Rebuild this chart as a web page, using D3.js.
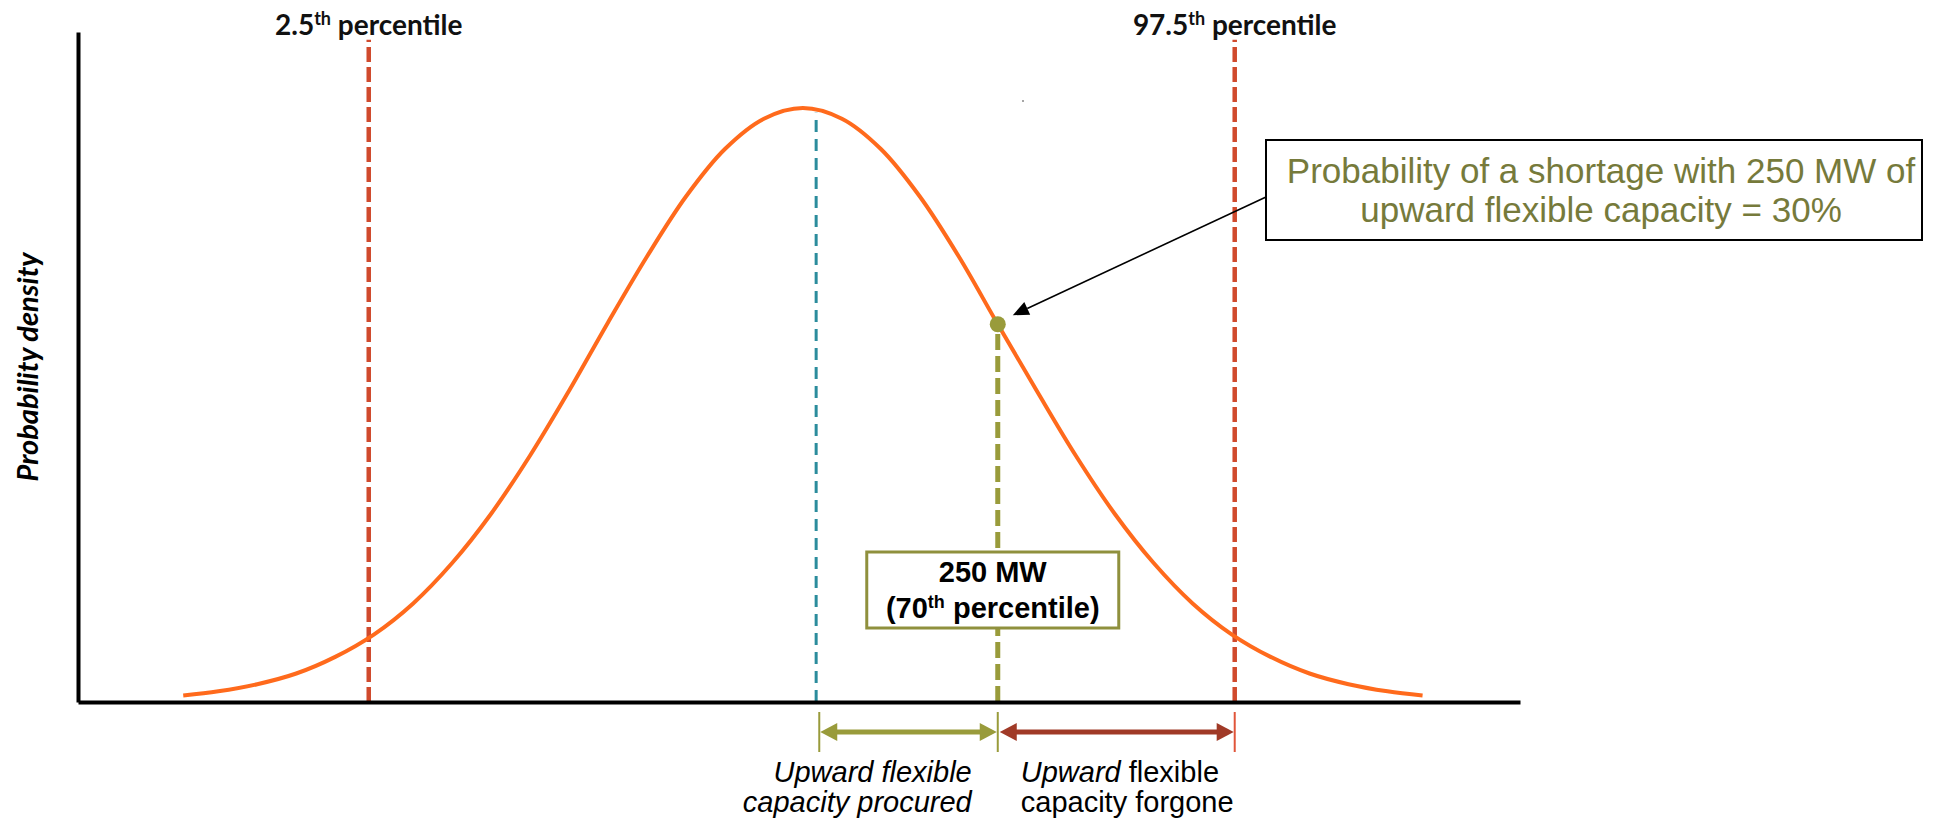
<!DOCTYPE html>
<html><head><meta charset="utf-8">
<script src="https://cdn.jsdelivr.net/npm/d3@7"></script>
<style>body{margin:0;background:#fff} svg{display:block}</style>
</head><body><svg id="chart" width="1935" height="825"></svg>
<script>
// ---- Data (x: MW relative to forecast, y: relative probability density) ----
const curveMW      = [-795, -750, -700, -650, -600, -550, -500, -450, -400, -350, -300, -250, -200, -150, -100, -50, 0, 50, 100, 150, 200, 250, 300, 350, 400, 450, 500, 550, 600, 650, 700, 750, 795];
const curveDensity = [0.011, 0.018, 0.030, 0.048, 0.076, 0.114, 0.166, 0.234, 0.317, 0.415, 0.524, 0.639, 0.750, 0.851, 0.931, 0.982, 1.000, 0.982, 0.931, 0.851, 0.750, 0.636, 0.524, 0.415, 0.317, 0.234, 0.166, 0.114, 0.076, 0.048, 0.030, 0.018, 0.011];
const percentileMW     = [-557, 554];
const percentileNums   = ["2.5", "97.5"];
const meanMW = 17;
const meanDensity = 0.992;
const procuredMW = 250;
const procuredDensity = 0.636;
const procuredPercentile = "70";
const shortageLines = ["Probability of a shortage with 250 MW of", "upward flexible capacity = 30%"];
const yAxisTitle = "Probability density";

const svg = d3.select("#chart");
const x = d3.scaleLinear().domain([-930, 920]).range([78, 1520]);
const y = d3.scaleLinear().domain([0, 1.128]).range([702, 32]);

const olive = "#999b3b", red = "#d04a2d", orange = "#ff6a1c", teal = "#2b8c9c";

// percentile lines
svg.selectAll(".pct").data(percentileMW).enter().append("line")
  .attr("x1", d => x(d)).attr("x2", d => x(d))
  .attr("y1", y(0)).attr("y2", y(1.115))
  .attr("stroke", red).attr("stroke-width", 4.5).attr("stroke-dasharray", "15,5");

// percentile labels
const pl = svg.selectAll(".pl").data(percentileMW).enter().append("text")
  .attr("x", d => x(d)).attr("y", 35).attr("text-anchor", "middle")
  .style("font-family", "Lato, 'Open Sans', sans-serif").style("font-weight", 700).style("font-size", "28px").attr("fill", "#111");
pl.append("tspan").text((d, i) => percentileNums[i]);
pl.append("tspan").text("th").style("font-size", "18px").attr("dy", -10);
pl.append("tspan").text(" percentile").attr("dy", 10);

// mean line
svg.append("line").attr("x1", x(meanMW)).attr("x2", x(meanMW))
  .attr("y1", y(0)).attr("y2", y(meanDensity))
  .attr("stroke", teal).attr("stroke-width", 3).attr("stroke-dasharray", "12,7");

// 250 MW line
svg.append("line").attr("x1", x(procuredMW)).attr("x2", x(procuredMW))
  .attr("y1", y(0)).attr("y2", y(procuredDensity))
  .attr("stroke", olive).attr("stroke-width", 5).attr("stroke-dasharray", "16,6");

// curve
const pts = curveMW.map((m, i) => [m, curveDensity[i]]);
svg.append("path").datum(pts)
  .attr("d", d3.line().x(d => x(d[0])).y(d => y(d[1])).curve(d3.curveCatmullRom.alpha(0.5)))
  .attr("fill", "none").attr("stroke", orange).attr("stroke-width", 4);

// point
svg.append("circle").attr("cx", x(procuredMW)).attr("cy", y(procuredDensity)).attr("r", 8).attr("fill", olive);

// axes
const gx = svg.append("g").attr("transform", `translate(0,${y(0)})`)
  .call(d3.axisBottom(x).tickValues([]).tickSizeOuter(0));
const gy = svg.append("g").attr("transform", `translate(${x(-930)},0)`)
  .call(d3.axisLeft(y).tickValues([]).tickSizeOuter(0));
[gx, gy].forEach(g => g.select(".domain").attr("stroke", "#000").attr("stroke-width", 4));

// y title
svg.append("text").attr("transform", `translate(38,${(y(0) + y(1.128)) / 2})rotate(-90)`)
  .attr("text-anchor", "middle")
  .style("font-family", "Lato, 'Open Sans', sans-serif").style("font-weight", 700).style("font-style", "italic").style("font-size", "29px")
  .text(yAxisTitle);

// 250 MW box
const bx = x(procuredMW) - 5;
svg.append("rect").attr("x", bx - 126).attr("y", 552).attr("width", 252).attr("height", 76)
  .attr("fill", "#fff").attr("stroke", "#8f903d").attr("stroke-width", 3);
const bt = svg.append("text").attr("text-anchor", "middle")
  .style("font-family", "'Liberation Sans', Arial, sans-serif").style("font-weight", 700).style("font-size", "29px");
bt.append("tspan").attr("x", bx).attr("y", 582).text(procuredMW + " MW");
const l2 = bt.append("tspan").attr("x", bx).attr("y", 618);
l2.append("tspan").text("(" + procuredPercentile);
l2.append("tspan").text("th").style("font-size", "18px").attr("dy", -10);
l2.append("tspan").text(" percentile)").attr("dy", 10);

// bottom double arrows
function dblArrow(x1, x2, yy, color) {
  const hl = 17, hw = 9;
  svg.append("line").attr("x1", x1 + hl - 2).attr("x2", x2 - hl + 2).attr("y1", yy).attr("y2", yy)
    .attr("stroke", color).attr("stroke-width", 5);
  svg.append("path").attr("d", `M${x1},${yy}L${x1 + hl},${yy - hw}L${x1 + hl},${yy + hw}Z`).attr("fill", color);
  svg.append("path").attr("d", `M${x2},${yy}L${x2 - hl},${yy - hw}L${x2 - hl},${yy + hw}Z`).attr("fill", color);
}
const arrowStart = 21;
const ticks = [[arrowStart, olive], [procuredMW, olive], [percentileMW[1], "#e0553a"]];
ticks.forEach(t => svg.append("line").attr("x1", x(t[0])).attr("x2", x(t[0])).attr("y1", 712).attr("y2", 752)
  .attr("stroke", t[1]).attr("stroke-width", 2));
dblArrow(x(arrowStart) + 1, x(procuredMW) - 1, 732, olive);
dblArrow(x(procuredMW) + 2, x(percentileMW[1]) - 1, 732, "#a03a27");

// bottom labels
const fontA = "'Liberation Sans', Arial, sans-serif";
const lt = svg.append("text").attr("text-anchor", "end").style("font-family", fontA).style("font-size", "29px").style("font-style", "italic");
lt.append("tspan").attr("x", x(procuredMW) - 26).attr("y", 782).text("Upward flexible");
lt.append("tspan").attr("x", x(procuredMW) - 26).attr("y", 812).text("capacity procured");
const rt = svg.append("text").attr("text-anchor", "start").style("font-family", fontA).style("font-size", "29px");
const r1 = rt.append("tspan").attr("x", x(procuredMW) + 23).attr("y", 782);
r1.append("tspan").text("Upward").style("font-style", "italic");
r1.append("tspan").text(" flexible");
rt.append("tspan").attr("x", x(procuredMW) + 23).attr("y", 812).text("capacity forgone");

// annotation box
svg.append("rect").attr("x", 1266).attr("y", 140).attr("width", 656).attr("height", 100)
  .attr("fill", "#fff").attr("stroke", "#000").attr("stroke-width", 2);
svg.append("text").attr("text-anchor", "middle").style("font-family", fontA).style("font-size", "35px").attr("fill", "#767a3b")
  .selectAll("tspan").data(shortageLines).enter().append("tspan")
  .attr("x", 1601).attr("y", (d, i) => 183 + i * 39).text(d => d);

// annotation arrow
const sx = 1266, sy = 197;
const tx = x(procuredMW) + 15, ty = y(procuredDensity) - 9;
const ang = Math.atan2(ty - sy, tx - sx);
const ahl = 16, ahw = 7;
const bxp = tx - ahl * Math.cos(ang), byp = ty - ahl * Math.sin(ang);
svg.append("line").attr("x1", sx).attr("y1", sy).attr("x2", bxp).attr("y2", byp).attr("stroke", "#000").attr("stroke-width", 1.6);
svg.append("path").attr("d", `M${tx},${ty}L${bxp + ahw * Math.sin(ang)},${byp - ahw * Math.cos(ang)}L${bxp - ahw * Math.sin(ang)},${byp + ahw * Math.cos(ang)}Z`).attr("fill", "#000");

// stray mark
svg.append("circle").attr("cx", 1023).attr("cy", 101).attr("r", 1).attr("fill", "#888");
</script></body></html>
